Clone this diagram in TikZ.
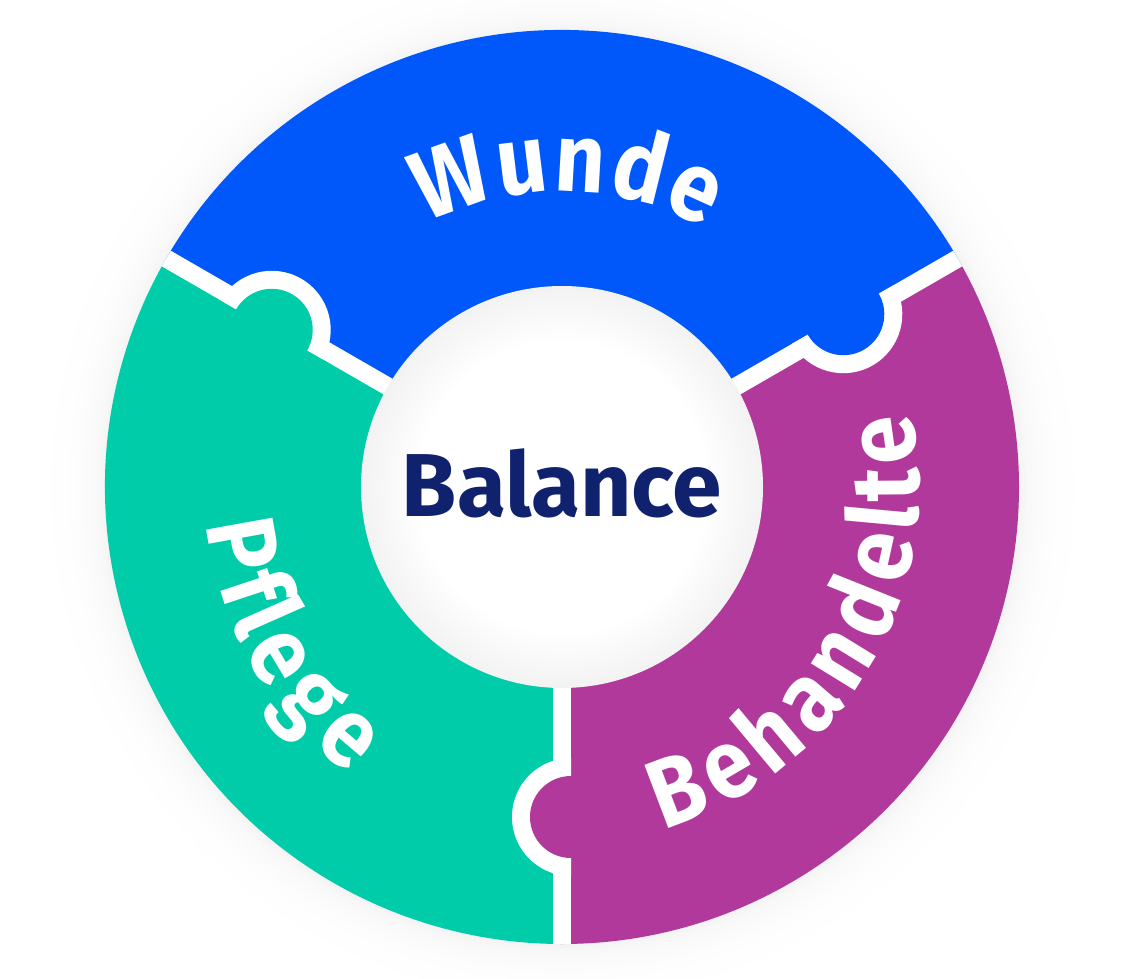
\documentclass[tikz,border=0pt]{standalone}
\usepackage{fontspec}
\setmainfont{Fira Sans}
\newfontfamily\lblfam{Fira Sans}[FakeStretch=0.9]
\usetikzlibrary{decorations.text}
\definecolor{cblue}{RGB}{0,88,250}
\definecolor{cgreen}{RGB}{0,204,170}
\definecolor{cpurple}{RGB}{178,57,156}
\definecolor{cnavy}{RGB}{16,33,110}
\pgfdeclareradialshading{outerglow}{\pgfpoint{0bp}{0bp}}{color(0bp)=(black!5); color(21.9bp)=(black!5); color(22.4bp)=(black!2.5); color(23.5bp)=(black!0.7); color(25bp)=(white); color(50bp)=(white)}
\pgfdeclareradialshading{innerglow}{\pgfpoint{0bp}{0bp}}{color(0bp)=(white); color(18bp)=(white); color(25bp)=(black!5); color(50bp)=(black!5)}
\newcommand\lblfont{\lblfam\bfseries\fontsize{73}{73}\selectfont}
\newcommand\ringsector[3]{\fill[#1] (#2:200) -- (#2:457) arc[start angle=#2, end angle=#3, radius=457] -- (#3:200) arc[start angle=#3, end angle=#2, radius=200] -- cycle;}
\newcommand\knobjoint[2]{%
  \fill[white, rotate=#1] (190,-9) rectangle (457,9);
  \fill[white, rotate=#1] (271,9) arc[start angle=180, end angle=360, radius=59] -- cycle;
  \fill[#2, rotate=#1] (330,9) circle[radius=41];}
\tikzset{
  lbl/.style={decorate, decoration={text effects along path, text={#1},
    text effects/.cd, text along path, fit text to path,
    characters={text=white, font=\lblfont, inner sep=0pt}}}
}
\begin{document}
\begin{tikzpicture}[x=0.75pt,y=0.75pt]
\useasboundingbox (-562,-491) rectangle (564,487);
\fill[white] (-562,-491) rectangle (564,487);
\shade[shading=outerglow] (0,0) circle[radius=520];
\ringsector{cblue}{30}{150}
\ringsector{cgreen}{150}{270}
\ringsector{cpurple}{-90}{30}
\knobjoint{30}{cblue}
\knobjoint{150}{cgreen}
\knobjoint{270}{cpurple}
\shade[shading=innerglow] (0,0) circle[radius=201];
\node[font=\bfseries\fontsize{67}{67}\selectfont, text=cnavy] (balance) at (0,4) {Balance};
\path[lbl=Wunde] (117:296) arc[start angle=117, end angle=61, radius=296];
\path[lbl=Behandelte] (-73.5:357) arc[start angle=-73.5, end angle=12, radius=357];
\path[lbl=Pflege] (186:357) arc[start angle=186, end angle=233.5, radius=357];
\end{tikzpicture}
\end{document}
